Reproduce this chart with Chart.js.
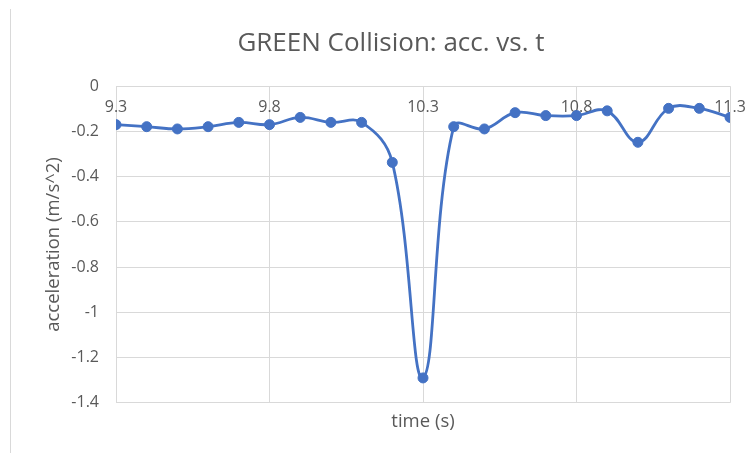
<!DOCTYPE html>
<html>
<head>
<meta charset="utf-8">
<script src="https://cdn.jsdelivr.net/npm/chart.js@4.4.1/dist/chart.umd.min.js"></script>
<style>
        body { margin: 0; background: #fff; }
        .wrap { position: relative; width: 748px; height: 453px; }
        .edge { position: absolute; left: 10px; top: 9px; width: 1px; height: 444px; background: #d9d9d9; }
</style>
</head>
<body>
<div class="wrap">
        <canvas id="myChart" width="748" height="453"></canvas>
        <div class="edge"></div>
</div>
<script>
// data
const times = [9.3, 9.4, 9.5, 9.6, 9.7, 9.8, 9.9, 10.0, 10.1, 10.2, 10.3,
        10.4, 10.5, 10.6, 10.7, 10.8, 10.9, 11.0, 11.1, 11.2, 11.3];
const accel = [-0.17, -0.179, -0.189, -0.179, -0.16, -0.17, -0.138, -0.16, -0.16, -0.337, -1.29,
        -0.179, -0.189, -0.117, -0.13, -0.13, -0.109, -0.248, -0.098, -0.098, -0.138];
const xTicks = [9.3, 9.8, 10.3, 10.8, 11.3];
const yTicks = [0, -0.2, -0.4, -0.6, -0.8, -1, -1.2, -1.4];

const gridColor = '#d9d9d9';
const textColor = '#595959';
const fontFamily = "'Open Sans', 'Noto Sans', sans-serif";

const points = times.map((t, i) => ({ x: t, y: accel[i] }));

const config = {
        type: 'line',
        data: {
                datasets: [{
                        label: 'acc',
                        data: points,
                        xAxisID: 'x',
                        yAxisID: 'y',
                        borderColor: '#4472C4',
                        backgroundColor: '#4472C4',
                        borderWidth: 2.8,
                        pointRadius: 5,
                        pointBorderWidth: 1,
                        pointBackgroundColor: '#4472C4',
                        pointBorderColor: '#4472C4',
                        tension: 0.4,
                        fill: false
                }]
        },
        options: {
                responsive: false,
                animation: false,
                layout: { padding: { left: 52, right: 18, top: 10, bottom: 20 } },
                plugins: {
                        legend: { display: false },
                        tooltip: { enabled: false },
                        title: {
                                display: true,
                                text: 'GREEN Collision: acc. vs. t',
                                color: textColor,
                                font: { family: fontFamily, size: 26, weight: 'normal' },
                                padding: { top: 18, bottom: 27 }
                        }
                },
                scales: {
                        x: {
                                type: 'linear',
                                position: { y: 0 },
                                min: 9.3,
                                max: 11.3,
                                afterBuildTicks: scale => {
                                        scale.ticks = xTicks.map(v => ({ value: v }));
                                },
                                afterFit: scale => {
                                        // labels at the ends may hang over the plot edge
                                        scale.paddingLeft = 0;
                                        scale.paddingRight = 0;
                                },
                                grid: { color: gridColor, lineWidth: 1, drawTicks: false },
                                border: { display: false },
                                ticks: {
                                        color: textColor,
                                        font: { family: fontFamily, size: 16 },
                                        padding: 12,
                                        maxRotation: 0,
                                        callback: v => String(v)
                                }
                        },
                        xt: {
                                type: 'linear',
                                position: 'bottom',
                                min: 9.3,
                                max: 11.3,
                                grid: { display: false, drawTicks: false },
                                border: { display: false },
                                ticks: { display: false },
                                title: {
                                        display: true,
                                        text: 'time (s)',
                                        color: textColor,
                                        font: { family: fontFamily, size: 18.5 },
                                        padding: { top: 8, bottom: 0 }
                                }
                        },
                        y: {
                                type: 'linear',
                                min: -1.4,
                                max: 0,
                                afterBuildTicks: scale => {
                                        scale.ticks = yTicks.map(v => ({ value: v }));
                                },
                                afterFit: scale => {
                                        scale.width = 64;
                                },
                                grid: { color: gridColor, lineWidth: 1, drawTicks: false },
                                border: { display: false },
                                ticks: {
                                        color: textColor,
                                        font: { family: fontFamily, size: 16 },
                                        padding: 17,
                                        callback: v => String(v)
                                },
                                title: {
                                        display: true,
                                        text: 'acceleration (m/s^2)',
                                        color: textColor,
                                        font: { family: fontFamily, size: 18.5 },
                                        padding: { top: -9, bottom: 0 }
                                }
                        }
                }
        }
};

const myChart = new Chart(document.getElementById('myChart'), config);
</script>
</body>
</html>
